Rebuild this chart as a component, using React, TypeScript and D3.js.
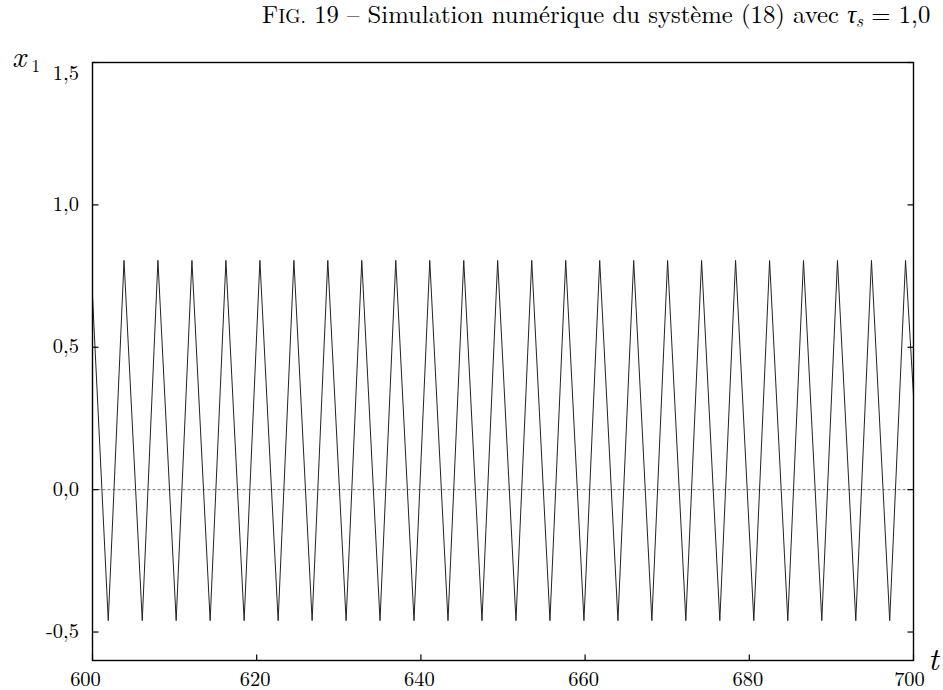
import React from "react";
import * as d3 from "d3";

// Extremes of the oscillation (t, x1)
const peakTimes = [603.84, 607.97, 612.11, 616.25, 620.39, 624.53, 628.66, 632.8, 636.94, 641.08, 645.22, 649.35, 653.5, 657.64, 661.78, 665.92, 670.05, 674.19, 678.33, 682.47, 686.6, 690.74, 694.88, 699.03];
const troughTimes = [601.92, 606.06, 610.19, 614.33, 618.47, 622.61, 626.75, 630.89, 635.02, 639.16, 643.3, 647.44, 651.58, 655.72, 659.86, 664.0, 668.13, 672.27, 676.41, 680.55, 684.69, 688.83, 692.97, 697.1];
const peakValue = 0.805;
const troughValue = -0.46;
const startPoint = { t: 600, x: 0.68 };
const endPoint = { t: 700, x: 0.33 };

const xTicks = [600, 620, 640, 660, 680, 700];
const yTicks = [-0.5, 0.0, 0.5, 1.0, 1.5];
const yTickLabels = ["-0,5", "0,0", "0,5", "1,0", "1,5"];

const W = 943;
const H = 690;
const left = 92.5, right = 913.5, top = 62.5, bottom = 660.5;

const FONT = "Latin Modern Roman";

export default function App() {
  const x = d3.scaleLinear().domain([600, 700]).range([left, right]);
  const y = d3.scaleLinear().domain([-0.6, 1.5]).range([bottom, top]);

  const pts = [
    startPoint,
    ...peakTimes.map((t) => ({ t, x: peakValue })),
    ...troughTimes.map((t) => ({ t, x: troughValue })),
    endPoint,
  ].sort((a, b) => a.t - b.t);

  const line = d3
    .line<{ t: number; x: number }>()
    .x((d) => x(d.t))
    .y((d) => y(d.x))
    .curve(d3.curveLinear);

  const tickLen = 6;
  const ts: React.CSSProperties = { fontFamily: FONT };

  return (
    <svg width={W} height={H} style={{ position: "absolute", left: 0, top: 0 }}>
      <rect width={W} height={H} fill="#fff" />
      {/* title */}
      <text x={262} y={23} fontSize={24.7} fill="#000" style={ts}>
        <tspan>F</tspan>
        <tspan fontSize={19.5}>IG.</tspan>
        <tspan> 19 – Simulation numérique du système (18) avec </tspan>
        <tspan fontStyle="italic">τ</tspan>
        <tspan fontStyle="italic" fontSize={17} dy={4}>s</tspan>
        <tspan dy={-4}> = 1,0</tspan>
      </text>

      {/* zero line */}
      <line x1={left} x2={right} y1={y(0)} y2={y(0)} stroke="#777" strokeWidth={1} strokeDasharray="3,2" />

      {/* curve */}
      <defs>
        <clipPath id="plotclip">
          <rect x={left} y={top} width={right - left} height={bottom - top} />
        </clipPath>
      </defs>
      <path d={line(pts) || ""} fill="none" stroke="#222" strokeWidth={1} strokeLinejoin="round" clipPath="url(#plotclip)" />

      {/* frame */}
      <rect x={left} y={top} width={right - left} height={bottom - top} fill="none" stroke="#000" strokeWidth={1.4} />

      {/* y ticks */}
      {yTicks.map((v, i) => (
        <g key={"y" + v}>
          <line x1={left} x2={left + tickLen} y1={y(v)} y2={y(v)} stroke="#000" strokeWidth={1.2} />
          <line x1={right} x2={right - tickLen} y1={y(v)} y2={y(v)} stroke="#000" strokeWidth={1.2} />
          <text x={79} y={y(v) + (v === 1.5 ? 17.5 : 6)} fontSize={20.5} textAnchor="end" fill="#000" style={ts}>
            {yTickLabels[i]}
          </text>
        </g>
      ))}

      {/* x ticks */}
      {xTicks.map((v, i) => (
        <g key={"x" + v}>
          <line x1={x(v)} x2={x(v)} y1={bottom} y2={bottom - tickLen} stroke="#000" strokeWidth={1.2} />
          <text
            x={x(v) + (i === 0 ? -7 : i === xTicks.length - 1 ? -4 : -1.5)}
            y={686}
            fontSize={20.5}
            textAnchor="middle"
            fill="#000"
            style={ts}
          >
            {v}
          </text>
        </g>
      ))}

      {/* axis labels */}
      <text x={12} y={67} fontSize={30} fontStyle="italic" fill="#000" style={ts}>x</text>
      <text x={31.5} y={72} fontSize={17} fill="#000" style={ts}>1</text>
      <text x={928} y={670} fontSize={32} fontStyle="italic" fill="#000" style={ts}>t</text>
    </svg>
  );
}
